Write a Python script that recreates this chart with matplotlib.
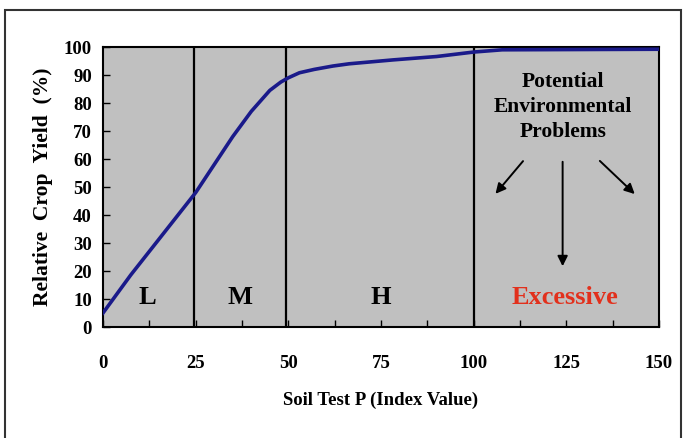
import matplotlib
matplotlib.use("Agg")
import matplotlib.pyplot as plt
from matplotlib.patches import Rectangle

# soil test P index vs relative crop yield
soil_p = [0, 7.5, 25, 30, 35, 40, 45, 48, 50, 53, 57, 62, 66.4, 78.3, 90, 100, 107.7, 150]
crop_yield = [5, 18.6, 48, 58, 68, 77, 84.5, 87.5, 89, 90.8, 92, 93.2, 94, 95.4, 96.6, 98.2, 99, 99.2]

boundaries = [24.5, 49.5, 100]
zone_labels = ["L", "M", "H", "Excessive"]
zone_centers = [12, 37, 75, 124.5]
zone_colors = ["black", "black", "black", "#e2301c"]

x_ticks = [0, 25, 50, 75, 100, 125, 150]
y_ticks = list(range(0, 101, 10))

plt.rcParams["font.family"] = "Liberation Serif"
plt.rcParams["font.weight"] = "bold"

fig = plt.figure(figsize=(6.84, 4.38), dpi=100)
ax = fig.add_axes([103 / 684, 1 - 327 / 438, 556 / 684, 280 / 438])
ax.set_facecolor("#c0c0c0")

# frame around the whole picture
fig.patches.append(Rectangle((5 / 684, -0.05), 676 / 684, 1.05 - 10 / 438,
                             transform=fig.transFigure, fill=False,
                             edgecolor="#333333", linewidth=1.5))

for b in boundaries:
    ax.plot([b, b], [0, 100], color="black", linewidth=1.6, zorder=2)

ax.plot(soil_p, crop_yield, color="#1a1a8a", linewidth=2.6, zorder=3,
        solid_joinstyle="round")

for lab, xc, col in zip(zone_labels, zone_centers, zone_colors):
    ax.text(xc, 10.5, lab, ha="center", va="center", fontsize=19,
            fontweight="bold", color=col)

ax.text(124, 78.6, "Potential\nEnvironmental\nProblems", ha="center", va="center",
        fontsize=15.5, fontweight="bold", linespacing=1.35)

arrow_kw = dict(arrowstyle="-|>,head_length=0.6,head_width=0.3", color="black", lw=1.4)
ax.annotate("", xy=(105.4, 46.8), xytext=(113.8, 60), arrowprops=arrow_kw)
ax.annotate("", xy=(124, 20.7), xytext=(124, 60), arrowprops=arrow_kw)
ax.annotate("", xy=(144, 46.8), xytext=(133.5, 60), arrowprops=arrow_kw)

ax.set_xlim(0, 150)
ax.set_ylim(0, 100)
ax.set_xticks(x_ticks)
ax.set_xticks([12.5 + 25 * i for i in range(6)], minor=True)
ax.set_yticks(y_ticks)
ax.tick_params(axis="x", direction="in", length=5, width=1, pad=20, labelsize=13.5)
ax.tick_params(axis="x", which="minor", direction="in", length=5, width=1)
ax.tick_params(axis="y", direction="in", length=5, width=1, pad=8, labelsize=13.5)
for lab in ax.get_xticklabels() + ax.get_yticklabels():
    lab.set_fontweight("bold")

for s in ax.spines.values():
    s.set_linewidth(1.5)
    s.set_color("black")

ax.set_xlabel("Soil Test P (Index Value)", fontsize=13.5, fontweight="bold", labelpad=14)
ax.set_ylabel("Relative  Crop  Yield  (%)", fontsize=15.5, fontweight="bold", labelpad=8)

fig.savefig("out.png", dpi=100)
